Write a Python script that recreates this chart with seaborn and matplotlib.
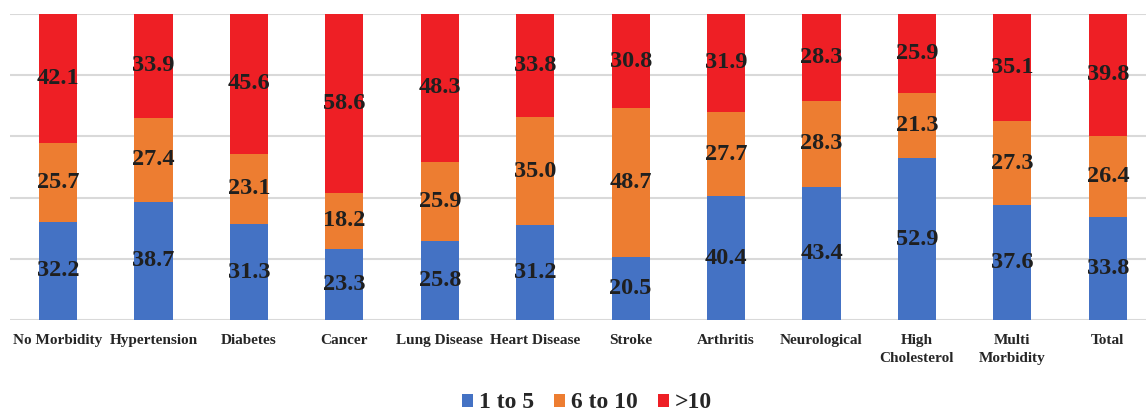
import matplotlib
matplotlib.use("Agg")
import matplotlib.pyplot as plt
import seaborn as sns
import pandas as pd
import numpy as np
from matplotlib.patches import Patch

categories = ["No Morbidity", "Hypertension", "Diabetes", "Cancer", "Lung Disease",
              "Heart Disease", "Stroke", "Arthritis", "Neurological",
              "High\nCholesterol", "Multi\nMorbidity", "Total"]
s_1to5 = [32.2, 38.7, 31.3, 23.3, 25.8, 31.2, 20.5, 40.4, 43.4, 52.9, 37.6, 33.8]
s_6to10 = [25.7, 27.4, 23.1, 18.2, 25.9, 35.0, 48.7, 27.7, 28.3, 21.3, 27.3, 26.4]
s_gt10 = [42.1, 33.9, 45.6, 58.6, 48.3, 33.8, 30.8, 31.9, 28.3, 25.9, 35.1, 39.8]
series_names = ["1 to 5", "6 to 10", ">10"]
colors = ["#4472C4", "#ED7D31", "#EE1F25"]

sns.set_theme(style="white")
plt.rcParams['font.family'] = ['Liberation Serif', 'DejaVu Serif']

df = pd.DataFrame({"cat": categories, "a": s_1to5, "b": s_6to10, "c": s_gt10})
df["cum1"] = df["a"]
df["cum2"] = df["a"] + df["b"]
df["cum3"] = df["a"] + df["b"] + df["c"]

fig = plt.figure(figsize=(11.46, 4.12), dpi=100)
ax = fig.add_axes([0.009, 0.223, 0.991, 0.743])

for col, c in zip(["cum3", "cum2", "cum1"], colors[::-1]):
    sns.barplot(data=df, x="cat", y=col, color=c, width=0.4, ax=ax,
                saturation=1, edgecolor="none", linewidth=0, zorder=3)

ax.set_ylim(0, 100)
ax.set_xlim(-0.5, 11.4)
ax.set_yticks([0, 20, 40, 60, 80, 100])
ax.set_yticklabels([])
ax.yaxis.grid(True, color="#d9d9d9", linewidth=1.5, zorder=0)
ax.set_axisbelow(True)
for s in ax.spines.values():
    s.set_visible(False)
ax.tick_params(axis="both", length=0)
ax.tick_params(axis="x", pad=10)
ax.set_xlabel("")
ax.set_ylabel("")
ax.set_xticks(range(len(categories)))
ax.set_xticklabels(categories, fontsize=11, fontweight="bold", color="#262626",
                   linespacing=1.5, va="top")

for i in range(len(categories)):
    bottoms = [0, s_1to5[i], s_1to5[i] + s_6to10[i]]
    vals = [s_1to5[i], s_6to10[i], s_gt10[i]]
    for b, v in zip(bottoms, vals):
        ax.text(i, b + v / 2, f"{v:.1f}", ha="center", va="center",
                fontsize=17.5, fontweight="bold", color="#1f1f1f", zorder=5)

handles = [Patch(facecolor=c, edgecolor="none") for c in colors]
fig.legend(handles, series_names, loc="center", bbox_to_anchor=(0.512, 0.022),
           ncol=3, frameon=False, handlelength=0.47, handleheight=0.47,
           handletextpad=0.25, columnspacing=0.85,
           prop={"family": "Liberation Serif", "weight": "bold", "size": 17})

fig.savefig("out.png", dpi=100)
